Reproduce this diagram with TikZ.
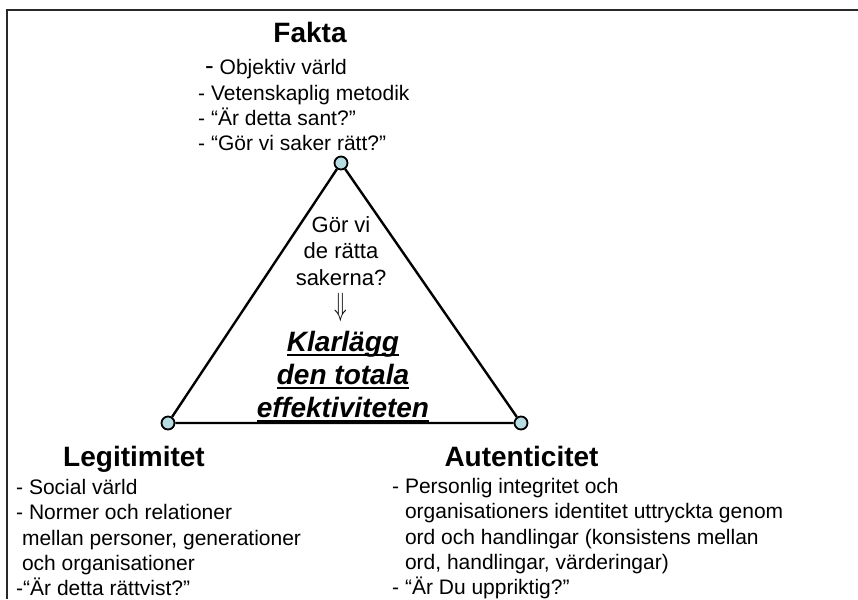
\documentclass[tikz,border=0pt]{standalone}
\usepackage{fontspec}
\setmainfont{Liberation Sans}
\definecolor{vertexblue}{RGB}{183, 221, 226}
\definecolor{framegray}{RGB}{40, 40, 40}
\usetikzlibrary{positioning}
\newsavebox{\ulbox}
\newcommand{\thickul}[1]{\sbox{\ulbox}{#1}\rlap{\rule[-5pt]{\wd\ulbox}{2.6pt}}\usebox{\ulbox}}

\begin{document}
\begin{tikzpicture}[x=1pt, y=-1pt,
  vertex/.style={circle, draw, line width=1.8pt, fill=vertexblue, minimum size=13pt, inner sep=0pt},
  side/.style={line width=2.4pt},
  heading/.style={font=\fontsize{28}{30}\selectfont\bfseries, inner sep=0pt, anchor=base},
  itemlist/.style={font=\fontsize{21}{25.3}\selectfont, align=left, inner sep=0pt, anchor=north west}
  ]
  \useasboundingbox (0,0) rectangle (858,599);

  % frame
  \draw[framegray, line width=1.5pt] (7,599) -- (7,10) -- (858,10);

  % Triangle corners
  \node[vertex] (top) at (341,163) {};
  \node[vertex] (left) at (168,423) {};
  \node[vertex] (right) at (521,423) {};
  \draw[side] (top) -- (left) -- (right) -- (top);

  % Fakta
  \node[heading] (fakta) at (310,43) {Fakta};
  \node[itemlist] (faktalist) at (198,59.5) {
    \hspace{7pt}{\fontsize{26}{25}\selectfont -} Objektiv värld\\
    - Vetenskaplig metodik\\
    - “Är detta sant?”\\
    - “Gör vi saker rätt?”
  };

  % Legitimitet
  \node[heading] (legit) at (134,466) {Legitimitet};
  \node[itemlist] (legitlist) at (16,479) {
    - Social värld\\
    - Normer och relationer\\
    \ mellan personer, generationer\\
    \ och organisationer\\
    -“Är detta rättvist?”
  };

  % Autenticitet
  \node[heading] (autent) at (521.5,466) {Autenticitet};
  \node[itemlist] (autentlist) at (392,478) {
    - Personlig integritet och\\
    \phantom{- }organisationers identitet uttryckta genom\\
    \phantom{- }ord och handlingar (konsistens mellan\\
    \phantom{- }ord, handlingar, värderingar)\\
    - “Är Du uppriktig?”
  };

  % Center question
  \node[font=\fontsize{22}{26.5}\selectfont, align=center, inner sep=0pt, anchor=north] (question) at (341,216) {
    Gör vi\\ de rätta\\ sakerna?\\[4pt] \scalebox{1}[1.55]{$\Downarrow$}
  };
  \node[font=\fontsize{28}{33}\selectfont\bfseries\itshape, align=center, inner sep=0pt, anchor=north] (answer) at (343,331) {
    \thickul{Klarlägg}\\ \thickul{den totala}\\ \thickul{effektiviteten}
  };
\end{tikzpicture}
\end{document}
